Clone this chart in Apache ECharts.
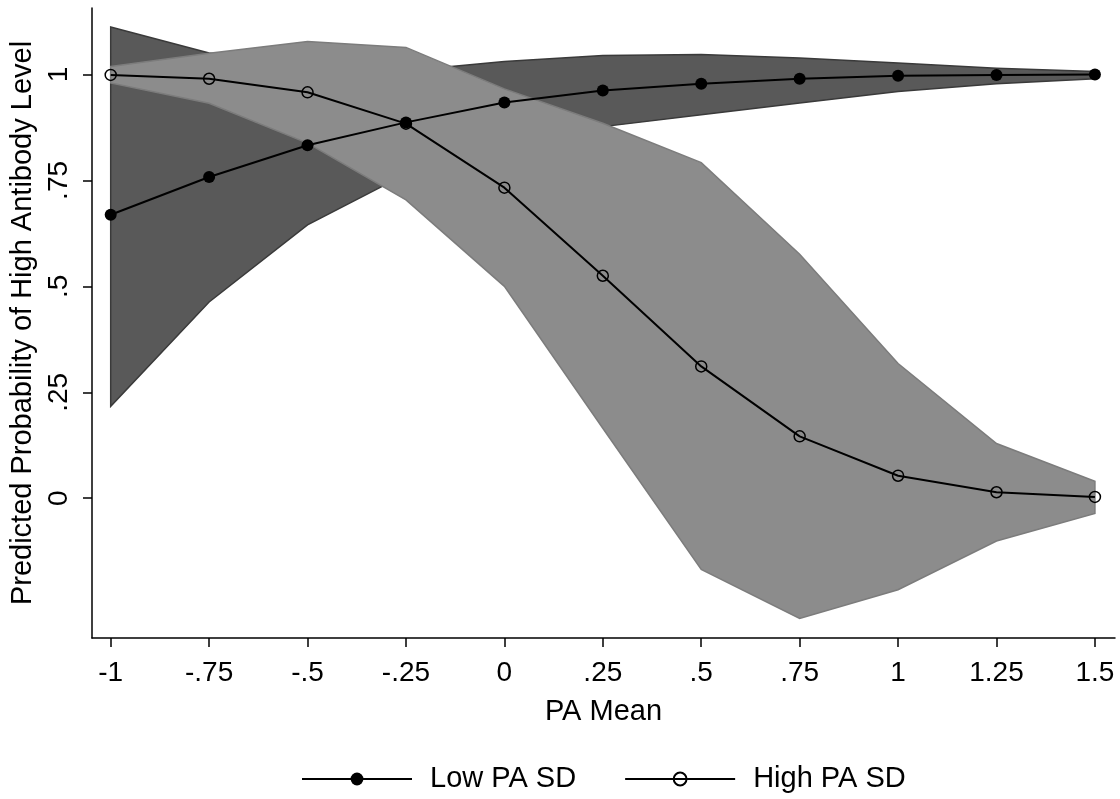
<!DOCTYPE html>
<html>
<head>
<meta charset="utf-8">
<script src="https://cdn.jsdelivr.net/npm/echarts@6/dist/echarts.min.js"></script>
<style>html,body{margin:0;padding:0;background:#fff}#c{width:1120px;height:799px}</style>
</head>
<body>
<div id="c"></div>
<script>
const xVals = [-1, -0.75, -0.5, -0.25, 0, 0.25, 0.5, 0.75, 1, 1.25, 1.5];
const lowMean  = [0.669, 0.758, 0.833, 0.887, 0.934, 0.962, 0.978, 0.990, 0.997, 0.999, 1.000];
const lowUpper = [1.112, 1.051, 1.021, 1.009, 1.031, 1.045, 1.047, 1.039, 1.027, 1.015, 1.007];
const lowLower = [0.217, 0.463, 0.645, 0.765, 0.836, 0.877, 0.905, 0.933, 0.960, 0.978, 0.990];
const highMean  = [0.999, 0.990, 0.958, 0.884, 0.733, 0.525, 0.311, 0.146, 0.053, 0.014, 0.003];
const highUpper = [1.019, 1.050, 1.078, 1.064, 0.966, 0.885, 0.792, 0.576, 0.318, 0.129, 0.040];
const highLower = [0.980, 0.932, 0.838, 0.704, 0.500, 0.165, -0.168, -0.284, -0.216, -0.101, -0.036];
const xTicks = [-1, -0.75, -0.5, -0.25, 0, 0.25, 0.5, 0.75, 1, 1.25, 1.5];
const yTicks = [0, 0.25, 0.5, 0.75, 1];

const FONT = 'Liberation Sans, Arial, sans-serif';
function fmt(v) {
  const r = Math.round(v * 100) / 100;
  return String(r).replace(/^(-?)0\./, '$1.');
}
function band(lower, upper, fill, stroke) {
  return function (params, api) {
    if (params.dataIndex !== 0) return null;
    const pts = [];
    for (let i = 0; i < xVals.length; i++) pts.push(api.coord([xVals[i], upper[i]]));
    for (let i = xVals.length - 1; i >= 0; i--) pts.push(api.coord([xVals[i], lower[i]]));
    return { type: 'polygon', shape: { points: pts }, style: { fill: fill, stroke: stroke, lineWidth: 1.5 } };
  };
}
const chart = echarts.init(document.getElementById('c'), null, { renderer: 'canvas' });
chart.setOption({
  animation: false,
  backgroundColor: '#fff',
  grid: { left: 92, right: 5, top: 8, bottom: 161, containLabel: false },
  xAxis: {
    type: 'value', min: -1.0475, max: 1.551,
    name: 'PA Mean', nameLocation: 'middle', nameGap: 59,
    nameTextStyle: { fontFamily: FONT, fontSize: 29, color: '#000' },
    axisLine: { show: true, onZero: false, lineStyle: { color: '#000', width: 1.5 } },
    axisTick: { show: true, length: 9, customValues: xTicks, lineStyle: { color: '#000', width: 1.5 } },
    axisLabel: { customValues: xTicks, formatter: fmt, margin: 21, fontFamily: FONT, fontSize: 28, color: '#000' },
    splitLine: { show: false }
  },
  yAxis: {
    type: 'value', min: -0.330, max: 1.157,
    name: 'Predicted Probability of High Antibody Level', nameLocation: 'middle', nameGap: 50, nameRotate: 90,
    nameTextStyle: { fontFamily: FONT, fontSize: 29, color: '#000' },
    axisLine: { show: true, onZero: false, lineStyle: { color: '#000', width: 1.5 } },
    axisTick: { show: true, length: 9, customValues: yTicks, lineStyle: { color: '#000', width: 1.5 } },
    axisLabel: { customValues: yTicks, formatter: fmt, rotate: 90, margin: 19, fontFamily: FONT, fontSize: 28, color: '#000' },
    splitLine: { show: false }
  },
  legend: {
    left: 296, top: 759,
    itemWidth: 110, itemHeight: 16, itemGap: 48,
    data: ['Low PA SD', 'High PA SD'],
    textStyle: { fontFamily: FONT, fontSize: 29, color: '#000', padding: [0, 0, 0, 13], lineHeight: 30 }
  },
  series: [
    { type: 'custom', name: 'lowBand', z: 1, data: [[xVals[0], lowMean[0]]], renderItem: band(lowLower, lowUpper, '#595959', '#3a3a3a'), silent: true },
    { type: 'custom', name: 'highBand', z: 2, data: [[xVals[0], highMean[0]]], renderItem: band(highLower, highUpper, '#8c8c8c', '#7c7c7c'), silent: true },
    {
      type: 'line', name: 'Low PA SD', z: 5,
      data: xVals.map((x, i) => [x, lowMean[i]]),
      symbol: 'circle', symbolSize: 12, showAllSymbol: true,
      lineStyle: { color: '#000', width: 2 },
      itemStyle: { color: '#000', borderColor: '#000', borderWidth: 0 }
    },
    {
      type: 'line', name: 'High PA SD', z: 5,
      data: xVals.map((x, i) => [x, highMean[i]]),
      symbol: 'circle', symbolSize: 11, showAllSymbol: true,
      lineStyle: { color: '#000', width: 2 },
      itemStyle: { color: 'rgba(0,0,0,0)', borderColor: '#000', borderWidth: 1.5 }
    }
  ]
});
</script>
</body>
</html>
